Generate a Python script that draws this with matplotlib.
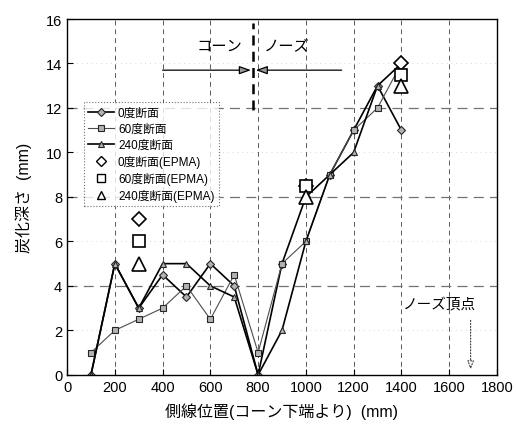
import matplotlib
matplotlib.use("Agg")
import matplotlib.pyplot as plt

plt.rcParams['font.family'] = ['Liberation Sans', 'Noto Sans CJK JP', 'DejaVu Sans']

# Measurement positions along the side line (mm)
x_pos = [100, 200, 300, 400, 500, 600, 700, 800, 900, 1000, 1100, 1200, 1300, 1400]

# Carbonation depth (mm) for each cross section
depth_0 = [0, 5, 3, 4.5, 3.5, 5, 4, 0, 5, 8, 9, 11, 13, 11]
depth_60 = [1, 2, 2.5, 3, 4, 2.5, 4.5, 1, 5, 6, 9, 11, 12, 14]
depth_240 = [0, 5, 3, 5, 5, 4, 3.5, 0, 2, 6, 9, 10, 13, 14]

# EPMA results
epma_x = [300, 1000, 1400]
epma_0 = [7, 8.5, 14]
epma_60 = [6, 8.5, 13.5]
epma_240 = [5, 8, 13]

labels = ['0度断面', '60度断面', '240度断面',
          '0度断面(EPMA)', '60度断面(EPMA)', '240度断面(EPMA)']

fig = plt.figure(figsize=(5.16, 4.35), dpi=100)
ax = fig.add_axes([0.130, 0.136, 0.833, 0.818])

ax.set_xlim(0, 1800)
ax.set_ylim(0, 16)
ax.set_xticks(range(0, 1801, 200))
ax.set_yticks(range(0, 17, 2))
ax.tick_params(direction='in', labelsize=10.5, length=4)

# grid
for gx in range(200, 1800, 200):
    ax.axvline(gx, color='0.35', lw=0.7, ls=(0, (5, 4)), zorder=0)
for gy in (4, 8, 12):
    ax.axhline(gy, color='0.45', lw=0.9, ls=(0, (8, 5)), zorder=0)
for gy in (2, 6, 10, 14):
    ax.axhline(gy, color='0.7', lw=0.5, ls=(0, (1, 6)), zorder=0)

mkw = dict(markersize=4.5, markerfacecolor='0.7', markeredgecolor='0.15',
           markeredgewidth=0.8)
ax.plot(x_pos, depth_0, '-', color='black', lw=1.2, marker='D', label=labels[0],
        **dict(mkw, markersize=3.8))
ax.plot(x_pos, depth_60, '-', color='0.3', lw=0.8, marker='s', label=labels[1], **mkw)
ax.plot(x_pos, depth_240, '-', color='black', lw=1.2, marker='^', label=labels[2], **mkw)

ekw = dict(ls='none', markerfacecolor='white', markeredgecolor='black',
           markeredgewidth=1.2)
ax.plot(epma_x, epma_0, marker='D', markersize=7.5, label=labels[3], **ekw)
ax.plot(epma_x, epma_60, marker='s', markersize=9, label=labels[4], **ekw)
ax.plot(epma_x, epma_240, marker='^', markersize=10, label=labels[5], **ekw)

# cone / nose boundary
ax.plot([780, 780], [11.9, 15.8], color='black', lw=1.8, ls=(0, (4, 2.5)))
ax.text(640, 14.8, 'コーン', ha='center', va='center', fontsize=11)
ax.text(920, 14.8, 'ノーズ', ha='center', va='center', fontsize=11)
akw = dict(arrowstyle='-|>,head_length=0.7,head_width=0.25', color='black',
           lw=0.9, fc='0.6', shrinkA=0, shrinkB=0)
ax.annotate('', xy=(770, 13.7), xytext=(400, 13.7), arrowprops=akw)
ax.annotate('', xy=(790, 13.7), xytext=(1150, 13.7), arrowprops=akw)

# nose apex
ax.text(1560, 3.2, 'ノーズ頂点', ha='center', va='center', fontsize=10.5)
ax.annotate('', xy=(1690, 0.25), xytext=(1690, 2.45),
            arrowprops=dict(arrowstyle='-|>,head_length=0.5,head_width=0.2',
                            color='0.2', lw=0.8, ls=':', fc='white',
                            shrinkA=0, shrinkB=0))

ax.set_xlabel('側線位置(コーン下端より)  (mm)', fontsize=11.5, labelpad=6)
ax.set_ylabel('炭化深さ  (mm)', fontsize=11.5, labelpad=10)

leg = ax.legend(loc='upper left', bbox_to_anchor=(0.025, 0.782), fontsize=8.5,
                frameon=True, fancybox=False, handlelength=2.2,
                borderpad=0.4, labelspacing=0.33, handletextpad=0.3)
for h in leg.legend_handles[3:]:
    h.set_markersize(5.5)
    h.set_markeredgewidth(1.0)
leg.get_frame().set_edgecolor('0.3')
leg.get_frame().set_linestyle(':')
leg.get_frame().set_linewidth(0.8)

for s in ax.spines.values():
    s.set_linewidth(1.0)

fig.savefig('out.png', dpi=100)
